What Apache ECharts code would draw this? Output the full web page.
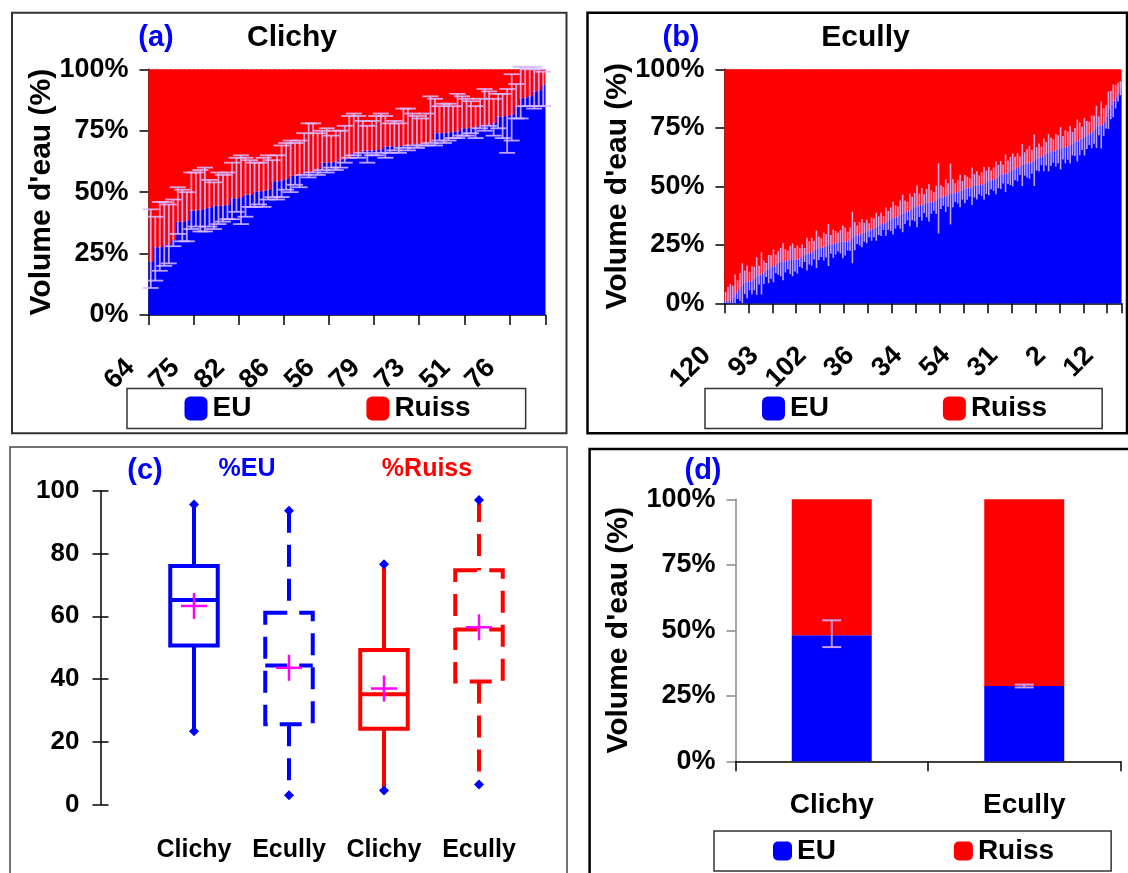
<!DOCTYPE html>
<html><head><meta charset="utf-8">
<script src="https://cdn.jsdelivr.net/npm/echarts@6/dist/echarts.min.js"></script>
<style>html,body{margin:0;padding:0;background:#fff;}#c{width:1128px;height:873px;}</style>
</head><body><div id="c"></div>
<script>
// ---------------- DATA ----------------
// (a) Clichy: events sorted by EU share; labels shown every 10th event
const aEventLabels = ['64','75','82','86','56','79','73','51','76'];
const aEU = [
21.7,27.6,27.6,28.5,28.8,30.5,38.0,38.0,38.5,42.5,
42.5,42.8,43.4,43.6,44.5,44.5,44.6,44.8,47.5,47.5,
48.0,49.0,49.0,50.3,50.3,50.5,51.0,54.4,54.4,54.8,
55.5,56.7,56.7,57.2,58.0,58.0,58.3,59.5,62.0,62.1,
62.1,62.4,63.4,63.4,63.8,65.9,66.0,66.9,66.9,67.0,
67.1,67.5,68.6,68.6,68.7,68.7,68.9,69.0,69.7,69.7,
69.8,69.8,70.5,74.0,74.0,74.2,74.3,74.5,74.8,76.0,
76.0,76.2,76.4,77.3,77.3,77.5,78.0,80.8,80.8,81.0,
81.5,84.9,88.2,88.5,89.0,90.9,91.5,93.6];
const aErrLow = [
11,14,18,20,21,28, 33,30,30,35,36,34, 34,36,35,37,38,39, 39,42,37,40,44,44,
45,44,47,48,47,48, 51,50,53,52,57,56, 58,57,59,58,60,59, 60,62,64,65,64,66,
62,65,65,66,64,66, 67,66,68,67,69,68, 69,69,70,69,71,70, 71,72,72,73,73,74,
72,76,75,77,73,76, 72,66,71,80,80,85, 85,84,85,85];
const aErrHigh = [
43,40,46,46,45,47, 52,51,50,58,58,59, 60,55,54,58,57,58, 62,64,65,64,63,62,
62,64,65,63,65,69, 70,71,70,71,74,78, 78,74,75,76,73,75, 75,77,81,82,81,79,
77,79,81,82,81,78, 79,78,84,84,82,81, 80,82,89,88,85,86, 86,85,90,89,88,87,
85,88,92,91,88,90, 90,92,98,94,101,101, 100,101,100,99];

// (b) Ecully: labels shown every 20th event
const bEventLabels = ['120','93','102','36','34','54','31','2','12'];
const bEU = [
0.8,1.0,1.2,2.5,4.3,5.8,7.0,8.1,9.0,9.2,
9.5,9.8,10.6,11.7,12.0,12.8,13.3,14.2,14.6,15.5,
16.0,16.8,17.2,17.6,17.8,18.2,18.5,18.5,18.6,18.6,
18.7,19.6,20.1,20.6,21.0,21.6,22.0,22.7,23.1,23.5,
23.8,24.3,24.6,24.9,25.2,25.5,25.9,26.1,26.3,26.3,
26.4,26.6,27.4,28.1,28.7,29.3,29.7,30.0,30.3,30.7,
31.2,31.7,32.2,32.7,33.2,33.8,34.3,34.9,35.4,35.9,
36.4,36.9,37.4,37.9,38.4,38.9,39.4,39.9,40.5,41.1,
41.5,41.9,42.3,42.6,42.8,43.0,43.3,43.6,44.2,44.8,
45.3,45.7,46.0,46.3,46.7,47.0,47.3,47.7,48.0,48.3,
48.8,49.2,49.6,50.0,50.2,50.4,50.6,50.9,51.2,51.7,
52.2,52.7,53.0,53.6,54.2,54.8,55.2,55.6,56.0,56.5,
57.0,57.6,58.2,58.8,59.1,59.5,59.8,60.2,60.5,61.1,
61.7,62.3,63.0,63.4,63.9,64.4,64.8,65.1,65.5,65.8,
66.2,66.5,66.9,67.3,67.7,68.2,68.9,69.6,70.3,70.5,
71.2,71.9,72.6,73.3,74.2,75.4,75.8,76.2,77.5,79.7,
82.5,84.7,86.5,88.3,90.2,91.9];
const bErrHalf = [
4,6,7,5,8,4,6,9,5,7, 4,6,5,8,4,9,5,3,6,5, 7,4,5,6,8,5,4,6,7,5,
6,4,5,3,7,5,6,4,8,5, 4,6,5,9,4,6,5,4,5,7, 6,4,5,11,6,4,5,6,4,5,
3,5,4,6,4,5,3,6,4,5, 7,5,4,6,8,5,4,7,5,6, 9,5,7,4,6,8,5,4,6,15,
5,4,7,5,13,6,4,5,7,4, 6,5,4,8,5,6,4,5,7,5, 6,4,5,7,5,6,4,8,5,6,
7,5,6,4,9,5,6,7,5,11, 5,6,4,7,5,8,6,5,7,6, 9,5,7,6,8,5,6,9,7,5,
8,6,5,7,6,9,4,10,6,5, 8,6,7,5,4,3];

// (c) box plots
const cGroups = ['Clichy %EU','Ecully %EU','Clichy %Ruiss','Ecully %Ruiss'];
const cSiteLabels = ['Clichy','Ecully','Clichy','Ecully'];
const cMin    = [23.4, 3.0, 4.5, 6.4];
const cQ1     = [50.7, 25.6, 24.2, 39.2];
const cMedian = [65.2, 44.3, 35.2, 55.8];
const cQ3     = [76.0, 61.1, 49.3, 74.7];
const cMax    = [95.6, 93.6, 76.6, 97.0];
const cMean   = [63.3, 43.6, 37.0, 56.5];

// (d) totals
const dSites = ['Clichy','Ecully'];
const dEU = [48.1, 28.7];
const dErrLow = [43.6, 28.2];
const dErrHigh = [53.8, 29.3];

// ---------------- STYLE ----------------
const FONT = '"Liberation Sans", Arial, sans-serif';
const BLUE = '#0000FF', RED = '#FF0000', ERR = 'rgba(214,184,255,0.88)', MAG = '#FF00FF';
const boxLook = [
  {color: BLUE, dash: null}, {color: BLUE, dash: [22, 12]},
  {color: RED, dash: null}, {color: RED, dash: [22, 12]}
];

const chart = echarts.init(document.getElementById('c'), null, {renderer: 'canvas'});

function pctYAxis(gi, nameGap) {
  return {
    gridIndex: gi, type: 'value', min: 0, max: 100, interval: 25,
    axisLine: {show: true, lineStyle: {color: '#000', width: 1.5}},
    axisTick: {show: true, length: 9, lineStyle: {color: '#000', width: 1.5}},
    splitLine: {show: false},
    axisLabel: {formatter: '{value}%', fontSize: 27, fontWeight: 'bold', color: '#000', margin: 20, fontFamily: FONT},
    name: "Volume d'eau (%)", nameLocation: 'middle', nameGap: nameGap, nameMoveOverlap: false,
    nameTextStyle: {fontSize: 30, fontWeight: 'bold', color: '#000', fontFamily: FONT}
  };
}
function eventXAxis(gi, cats, labels, labelEvery, tickEvery, margin, pad) {
  return {
    gridIndex: gi, type: 'category', data: cats, boundaryGap: true,
    axisLine: {show: true, lineStyle: {color: '#000', width: 1.5}},
    axisTick: {show: true, interval: tickEvery - 1, length: 10, lineStyle: {color: '#000', width: 1.5}},
    axisLabel: {
      interval: labelEvery - 1, rotate: 45, margin: margin, padding: [0, pad, 0, 0],
      fontSize: 27, fontWeight: 'bold', color: '#000', fontFamily: FONT,
      formatter: (v, i) => (labels[i / labelEvery] !== undefined ? labels[i / labelEvery] : '')
    }
  };
}
function errRender(capHalf, lw, color) {
  return function (params, api) {
    const x = api.value(0);
    const lo = api.coord([x, api.value(1)]);
    const hi = api.coord([x, api.value(2)]);
    const st = {stroke: color, lineWidth: lw};
    const ch = [{type: 'line', shape: {x1: lo[0], y1: lo[1], x2: hi[0], y2: hi[1]}, style: st}];
    if (capHalf > 0) {
      ch.push({type: 'line', shape: {x1: lo[0] - capHalf, y1: lo[1], x2: lo[0] + capHalf, y2: lo[1]}, style: st});
      ch.push({type: 'line', shape: {x1: hi[0] - capHalf, y1: hi[1], x2: hi[0] + capHalf, y2: hi[1]}, style: st});
    }
    return {type: 'group', children: ch};
  };
}
function boxRender(params, api) {
  const st = boxLook[params.dataIndex];
  const x = api.value(0);
  const c = k => api.coord([x, api.value(k)]);
  const pMin = c(1), cx = pMin[0], yMin = pMin[1];
  const yQ1 = c(2)[1], yMed = c(3)[1], yQ3 = c(4)[1], yMax = c(5)[1], yMean = c(6)[1];
  const hw = api.size([1, 0])[0] * 0.25;
  const ls = {stroke: st.color, lineWidth: 4, lineDash: st.dash, fill: 'none'};
  const dia = y => ({type: 'polygon', shape: {points: [[cx, y - 5], [cx + 5, y], [cx, y + 5], [cx - 5, y]]}, style: {fill: BLUE}});
  return {type: 'group', children: [
    {type: 'line', shape: {x1: cx, y1: yMax, x2: cx, y2: yQ3}, style: ls},
    {type: 'line', shape: {x1: cx, y1: yQ1, x2: cx, y2: yMin}, style: ls},
    {type: 'rect', shape: {x: cx - hw, y: yQ3, width: 2 * hw, height: yQ1 - yQ3}, style: ls},
    {type: 'line', shape: {x1: cx - hw, y1: yMed, x2: cx + hw, y2: yMed}, style: ls},
    dia(yMax), dia(yMin),
    {type: 'line', shape: {x1: cx - 13, y1: yMean, x2: cx + 13, y2: yMean}, style: {stroke: MAG, lineWidth: 2.5}},
    {type: 'line', shape: {x1: cx, y1: yMean - 13, x2: cx, y2: yMean + 13}, style: {stroke: MAG, lineWidth: 2.5}}
  ]};
}
function stackedBars(prefix, xi, eu, extra) {
  return [
    Object.assign({name: 'EU', type: 'bar', xAxisIndex: xi, yAxisIndex: xi, stack: prefix, data: eu,
      itemStyle: {color: BLUE}, silent: true}, extra),
    Object.assign({name: 'Ruiss', type: 'bar', xAxisIndex: xi, yAxisIndex: xi, stack: prefix,
      data: eu.map(v => +(100 - v).toFixed(2)),
      itemStyle: {color: RED}, silent: true}, extra)
  ];
}
function legendAt(left, top, iw, ih, gap, pad) {
  return {
    data: [{name: 'EU', icon: 'roundRect'}, {name: 'Ruiss', icon: 'roundRect'}],
    left: left, top: top, orient: 'horizontal', itemWidth: iw, itemHeight: ih, itemGap: gap,
    padding: pad, borderColor: '#333', borderWidth: 1.5, selectedMode: false,
    textStyle: {fontSize: 28, fontWeight: 'bold', color: '#000', fontFamily: FONT}
  };
}
function label(text, x, y, size, color) {
  return {type: 'text', x: x, y: y, z: 10, style: {
    text: text, fill: color, font: 'bold ' + size + 'px ' + FONT,
    align: 'center', verticalAlign: 'middle', textAlign: 'center', textVerticalAlign: 'middle'}};
}
function frame(x, y, w, h, lw, color) {
  return {type: 'rect', z: 0, shape: {x: x, y: y, width: w, height: h}, style: {fill: 'none', stroke: color, lineWidth: lw}};
}

const aCats = aEU.map((v, i) => 'a' + (i + 1));
const bCats = bEU.map((v, i) => 'b' + (i + 1));

const option = {
  animation: false,
  backgroundColor: '#fff',
  textStyle: {fontFamily: FONT},
  grid: [
    {left: 148.5, top: 69.3, width: 397, height: 245.7, outerBoundsMode: 'none'},
    {left: 724.4, top: 69.3, width: 397.2, height: 234, outerBoundsMode: 'none'},
    {left: 146.5, top: 490.7, width: 380, height: 314, outerBoundsMode: 'none'},
    {left: 735.5, top: 499.3, width: 385, height: 262, outerBoundsMode: 'none'}
  ],
  xAxis: [
    eventXAxis(0, aCats, aEventLabels, 10, 10, 28, 29),
    eventXAxis(1, bCats, bEventLabels, 20, 10, 29, 27),
    {gridIndex: 2, type: 'category', data: cGroups, boundaryGap: true,
     axisLine: {show: false}, axisTick: {show: false},
     axisLabel: {interval: 0, margin: 33, fontSize: 25, fontWeight: 'bold', color: '#000', fontFamily: FONT,
       formatter: (v, i) => cSiteLabels[i]}},
    {gridIndex: 3, type: 'category', data: dSites, boundaryGap: true,
     axisLine: {show: true, lineStyle: {color: '#000', width: 1.5}},
     axisTick: {show: true, length: 10, lineStyle: {color: '#000', width: 1.5}},
     axisLabel: {margin: 30, fontSize: 28, fontWeight: 'bold', color: '#000', fontFamily: FONT}}
  ],
  yAxis: [
    pctYAxis(0, 92),
    pctYAxis(1, 92),
    {gridIndex: 2, type: 'value', min: 0, max: 100, interval: 20, offset: 46,
     axisLine: {show: true, lineStyle: {color: '#000', width: 1.5}},
     axisTick: {show: true, length: 8, lineStyle: {color: '#000', width: 1.5}},
     splitLine: {show: false},
     axisLabel: {fontSize: 26, fontWeight: 'bold', color: '#000', margin: 21, fontFamily: FONT}},
    Object.assign(pctYAxis(3, 102), {axisLine: {show: true, lineStyle: {color: '#888', width: 1.5}},
      axisTick: {show: true, length: 9, lineStyle: {color: '#888', width: 1.5}}}),
    // inner half of the crossing ticks of panel (c)
    {gridIndex: 2, type: 'value', min: 0, max: 100, interval: 20, offset: 46, position: 'left',
     axisLine: {show: false}, axisLabel: {show: false}, splitLine: {show: false},
     axisTick: {show: true, inside: true, length: 8, lineStyle: {color: '#000', width: 1.5}}}
  ],
  legend: [
    legendAt(127, 388.5, 23, 24, 115, [6, 55, 6, 57.5]),
    legendAt(705, 388.5, 23, 24, 114, [6, 55, 6, 57]),
    legendAt(714, 831, 19, 19, 118, [6, 57, 6, 59])
  ],
  graphic: [
    frame(12, 12.7, 554.5, 420.5, 2, '#333'),
    frame(587.5, 12.7, 539.5, 420.5, 2.5, '#000'),
    frame(10, 447, 557, 440, 1.5, '#444'),
    frame(589.6, 449, 545, 440, 2.5, '#000'),
    label('(a)', 156, 37.5, 29, BLUE),
    label('Clichy', 292, 38, 30, '#000'),
    label('(b)', 681, 37.5, 29, BLUE),
    label('Ecully', 865.5, 38, 30, '#000'),
    label('(c)', 145, 471, 29, BLUE),
    label('%EU', 247, 469.6, 25, BLUE),
    label('%Ruiss', 427, 469.6, 25, RED),
    label('(d)', 703, 471, 29, BLUE)
  ],
  series: [].concat(
    stackedBars('a', 0, aEU, {barWidth: 5.8}),
    [{type: 'custom', name: 'errA', xAxisIndex: 0, yAxisIndex: 0, z: 5, silent: true,
      renderItem: errRender(8, 1.8, ERR), encode: {x: 0, y: [1, 2]},
      data: aEU.map((v, i) => [i, aErrLow[i], aErrHigh[i]])}],
    stackedBars('b', 1, bEU, {barWidth: 3.6}),
    [{type: 'custom', name: 'errB', xAxisIndex: 1, yAxisIndex: 1, z: 5, silent: true, clip: true,
      renderItem: errRender(0, 1.6, ERR), encode: {x: 0, y: [1, 2]},
      data: bEU.map((v, i) => [i, Math.max(0, +(v - bErrHalf[i]).toFixed(2)), +(v + bErrHalf[i]).toFixed(2)])}],
    [{type: 'custom', name: 'box', xAxisIndex: 2, yAxisIndex: 2, z: 5, silent: true,
      renderItem: boxRender, encode: {x: 0, y: [1, 2, 3, 4, 5, 6]},
      data: cGroups.map((g, i) => [i, cMin[i], cQ1[i], cMedian[i], cQ3[i], cMax[i], cMean[i]])}],
    stackedBars('d', 3, dEU, {barWidth: 80}),
    [{type: 'custom', name: 'errD', xAxisIndex: 3, yAxisIndex: 3, z: 5, silent: true,
      renderItem: errRender(9.5, 2, 'rgba(205,165,245,0.95)'), encode: {x: 0, y: [1, 2]},
      data: dEU.map((v, i) => [i, dErrLow[i], dErrHigh[i]])}]
  )
};
chart.setOption(option);
</script></body></html>
